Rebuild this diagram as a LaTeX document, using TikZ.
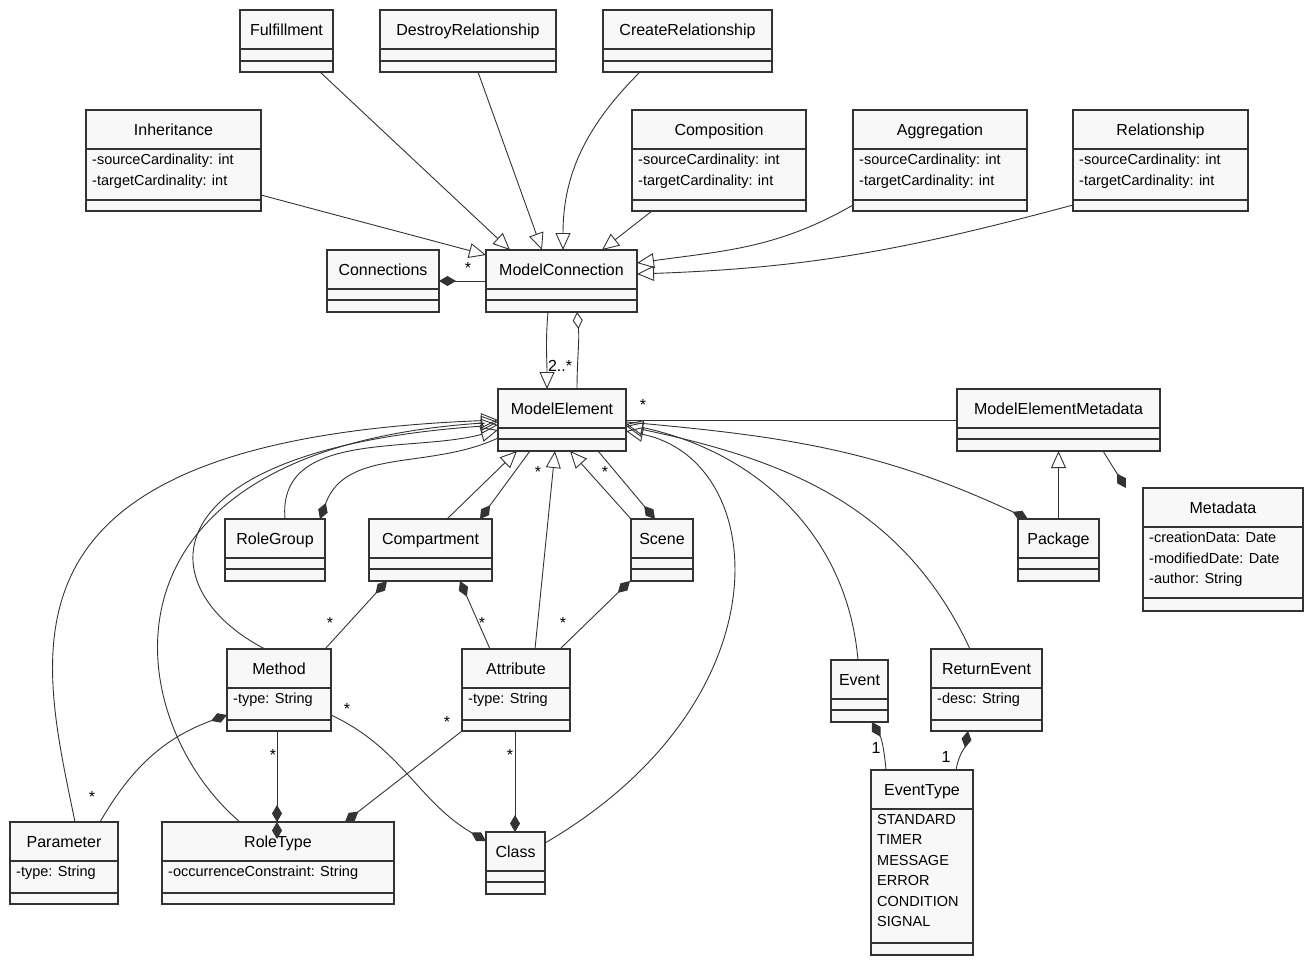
\documentclass[tikz,border=0pt]{standalone}
\usepackage{fontspec}
\setmainfont{Liberation Sans}
\usetikzlibrary{arrows.meta}
\definecolor{ln}{HTML}{333333}
\definecolor{bx}{HTML}{F8F8F8}
\tikzset{
 box/.style={draw=ln,fill=bx,line width=1.3pt,inner sep=0,outer sep=0},
 cn/.style={draw=ln,line width=0.9pt},
 gen/.style={cn,-{Triangle[open,length=17,width=15,line width=0.9pt]}},
 comp/.style={cn,{Diamond[length=17,width=10,fill=ln]}-},
 agg/.style={cn,{Diamond[open,length=17,width=10,fill=white]}-},
 ttl/.style={font=\fontsize{16}{19}\selectfont,anchor=base,text=black},
 att/.style={font=\fontsize{14.5}{20.5}\selectfont,anchor=north west,align=left,inner sep=0,text=black},
 ml/.style={font=\fontsize{16}{19}\selectfont,text=black,inner sep=1pt}
}
\newcommand\ucls[9]{%
 \node[box,minimum width={(#4-#2)*1pt},minimum height={(#5-#3)*1pt}] (#1) at ({(#2+#4)/2},{(#3+#5)/2}) {};
 \draw[ln,line width=1.3pt] (#2,#6) -- (#4,#6) (#2,#7) -- (#4,#7);
 \node[ttl] at ({(#2+#4)/2},{#3+25}) {#8};
 \node[att] at ({#2+6},{#6+5}) {#9};
}
\begin{document}
\begin{tikzpicture}[x=1pt,y=-1pt]
\useasboundingbox (0,0) rectangle (1311,964);
\ucls{Fulf}{240}{10}{333}{72}{49}{61}{Fulfillment}{}
\ucls{DR}{380}{10}{556}{72}{49}{61}{DestroyRelationship}{}
\ucls{CR}{603}{10}{772}{72}{49}{61}{CreateRelationship}{}
\ucls{Inh}{86}{110}{261}{211}{149}{200}{Inheritance}{-sourceCardinality: int\\-targetCardinality: int}
\ucls{Comp}{632}{110}{806}{211}{149}{200}{Composition}{-sourceCardinality: int\\-targetCardinality: int}
\ucls{Agg}{853}{110}{1027}{211}{149}{200}{Aggregation}{-sourceCardinality: int\\-targetCardinality: int}
\ucls{Rel}{1073}{110}{1248}{211}{149}{200}{Relationship}{-sourceCardinality: int\\-targetCardinality: int}
\ucls{Conn}{327}{250}{439}{312}{289}{300}{Connections}{}
\ucls{MC}{486}{250}{637}{312}{289}{300}{ModelConnection}{}
\ucls{ME}{498}{389}{626}{451}{428}{439}{ModelElement}{}
\ucls{MEM}{957}{389}{1160}{451}{428}{439}{ModelElementMetadata}{}
\ucls{RG}{225}{519}{325}{581}{558}{569}{RoleGroup}{}
\ucls{Cmp}{369}{519}{492}{581}{558}{569}{Compartment}{}
\ucls{Sc}{631}{519}{693}{581}{558}{569}{Scene}{}
\ucls{Pkg}{1018}{519}{1099}{581}{558}{569}{Package}{}
\ucls{Md}{1143}{488}{1303}{611}{527}{598}{Metadata}{-creationData: Date\\-modifiedDate: Date\\-author: String}
\ucls{Mt}{227}{649}{331}{731}{688}{720}{Method}{-type: String}
\ucls{At}{462}{649}{570}{731}{688}{720}{Attribute}{-type: String}
\ucls{Ev}{831}{660}{888}{722}{699}{710}{Event}{}
\ucls{RE}{931}{649}{1042}{731}{688}{720}{ReturnEvent}{-desc: String}
\ucls{ET}{871}{770}{973}{955}{809}{943}{EventType}{STANDARD\\TIMER\\MESSAGE\\ERROR\\CONDITION\\SIGNAL}
\ucls{Par}{10}{822}{118}{904}{861}{893}{Parameter}{-type: String}
\ucls{RT}{162}{822}{394}{904}{861}{893}{RoleType}{-occurrenceConstraint: String}
\ucls{Cl}{486}{832}{545}{894}{871}{882}{Class}{}
% generalizations to ModelConnection
\draw[gen] ([xshift=-13]Fulf.south east) -- ([xshift=24]MC.north west);
\draw[gen] ([xshift=98]DR.south west) -- ([xshift=56]MC.north west);
\draw[gen] ([xshift=37]CR.south west) to[out=-135,in=90] ([xshift=77]MC.north west);
\draw[gen] ([yshift=16]Inh.south east) to[out=-15,in=165] ([yshift=-5]MC.north west);
\draw[gen] ([xshift=20]Comp.south west) -- ([xshift=-35]MC.north east);
\draw[gen] ([yshift=6]Agg.south west) to[out=-150,in=8] ([yshift=-13]MC.north east);
\draw[gen] ([yshift=6]Rel.south west) to[out=-165,in=2] ([yshift=-24]MC.north east);
\draw[comp] ([yshift=-31]Conn.north east) -- ([yshift=-31]MC.north west);
\node[ml] at (468,268) {*};
% ModelConnection - ModelElement
\draw[gen] ([xshift=62]MC.south west) to[out=-95,in=90] ([xshift=49]ME.north west);
\draw[agg] ([xshift=91]MC.south west) to[out=-85,in=90] ([xshift=79]ME.north west);
\node[ml] at (560,366) {2..*};
% right side of ModelElement
\draw[cn] ([yshift=-31]MEM.north west) -- ([yshift=-31]ME.north east);
\node[ml] at (643,405) {*};
\draw[gen] (Pkg.north) -- (MEM.south -| Pkg.north);
\draw[comp] ([xshift=-17]Md.north west) -- ([xshift=-57]MEM.south east);
\draw[comp] ([xshift=10]Pkg.north west) to[out=155,in=-5] ([yshift=-33]ME.north east);
\draw[gen] ([xshift=27]Ev.north west) to[out=95,in=-12] ([yshift=-35]ME.north east);
\draw[gen] ([xshift=39]RE.north west) to[out=115,in=-12] ([yshift=-37]ME.north east);
\draw[gen] ([yshift=-11]Cl.north east) .. controls (790,700) and (770,460) .. ([yshift=-42]ME.north east);
% below ModelElement
\draw[gen] ([xshift=78]Cmp.north west) -- ([xshift=19]ME.south west);
\draw[comp] ([xshift=111]Cmp.north west) -- ([xshift=32]ME.south west);
\node[ml] at (538,472) {*};
\draw[gen] ([xshift=73]At.north west) -- ([xshift=57]ME.south west);
\draw[gen] (Sc.north west) -- ([xshift=72]ME.south west);
\draw[comp] ([xshift=24]Sc.north west) -- ([xshift=100]ME.south west);
\node[ml] at (605,472) {*};
\draw[gen] ([xshift=60]RG.north west) to[out=95,in=195] ([yshift=-41]ME.north west);
\draw[comp] ([xshift=95]RG.north west) to[out=70,in=205] ([yshift=-49]ME.north west);
\node[ml] at (482,427) {*};
\draw[gen] ([xshift=38]Mt.north west) .. controls (150,590) and (140,450) .. ([yshift=-36]ME.north west);
\draw[gen] ([xshift=78]RT.north west) .. controls (120,720) and (80,450) .. ([yshift=-33]ME.north west);
\draw[gen] ([xshift=65]Par.north west) .. controls (40,650) and (-20,440) .. ([yshift=-31]ME.north west);
% lower associations
\draw[comp] ([xshift=18]Cmp.south west) -- ([xshift=98]Mt.north west);
\node[ml] at (330,623) {*};
\draw[comp] ([xshift=91]Cmp.south west) -- ([xshift=28]At.north west);
\node[ml] at (482,623) {*};
\draw[comp] ([xshift=-1]Sc.south west) -- ([xshift=98]At.north west);
\node[ml] at (563,623) {*};
\draw[comp] ([yshift=16]Mt.south west) to[out=200,in=60] ([xshift=90]Par.north west);
\node[ml] at (92,797) {*};
\draw[comp] ([xshift=115]RT.north west) -- (RT.north west -| 277,0);
\draw[comp] (RT.north west -| 277,0) -- ([xshift=50]Mt.south west);
\node[ml] at (273,755) {*};
\draw[comp] ([yshift=-9]Cl.north west) to[out=150,in=-25] ([yshift=16]Mt.south east);
\node[ml] at (347,709) {*};
\draw[comp] ([xshift=183]RT.north west) -- (At.south west);
\node[ml] at (447,722) {*};
\draw[comp] ([xshift=29]Cl.north west) -- ([xshift=53]At.south west);
\node[ml] at (510,755) {*};
\draw[comp] ([xshift=41]Ev.south west) to[out=-60,in=95] ([xshift=15]ET.north west);
\node[ml] at (876,748) {1};
\draw[comp] ([xshift=37]RE.south west) to[out=-100,in=80] ([xshift=85]ET.north west);
\node[ml] at (946,757) {1};
\end{tikzpicture}
\end{document}
